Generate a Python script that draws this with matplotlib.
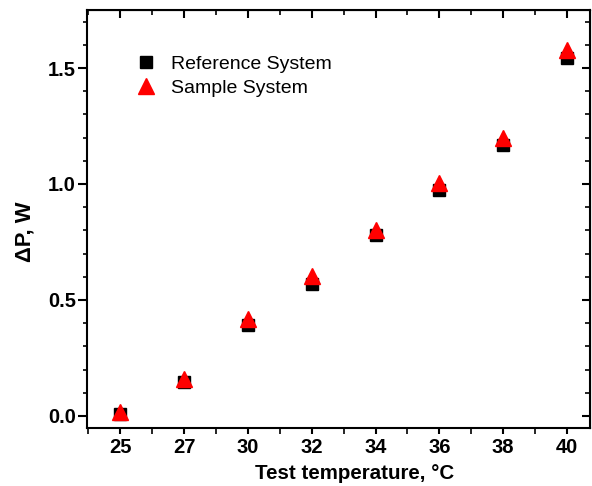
import matplotlib
matplotlib.use("Agg")
import matplotlib.pyplot as plt
from matplotlib.ticker import MultipleLocator

plt.rcParams['font.family'] = ['Liberation Sans', 'DejaVu Sans']

# Data
temps = ['25', '27', '30', '32', '34', '36', '38', '40']
reference = [0.01, 0.147, 0.39, 0.57, 0.78, 0.975, 1.17, 1.543]
sample = [0.015, 0.16, 0.42, 0.605, 0.80, 1.005, 1.20, 1.578]

fig = plt.figure(figsize=(5.92, 4.86), dpi=100)
ax = fig.add_axes([0.147, 0.1193, 0.8496, 0.8601])

x = list(range(len(temps)))
ax.plot(x, reference, linestyle='none', marker='s', color='black', markersize=8.5,
        label='Reference System')
ax.plot(x, sample, linestyle='none', marker='^', color='red', markersize=11.5,
        label='Sample System')

ax.set_xlim(-0.52, 7.36)
ax.set_ylim(-0.052, 1.75)
ax.set_xticks(x)
ax.set_xticklabels(temps)
ax.xaxis.set_minor_locator(MultipleLocator(0.5))
ax.yaxis.set_major_locator(MultipleLocator(0.5))
ax.yaxis.set_minor_locator(MultipleLocator(0.1))
ax.yaxis.set_major_formatter(plt.FuncFormatter(lambda v, p: f'{v:.1f}'))

for spine in ax.spines.values():
    spine.set_linewidth(1.5)

ax.tick_params(axis='y', which='major', direction='out', length=6.5, width=1.5, pad=1.5, labelsize=14.5)
ax.tick_params(axis='y', which='minor', direction='out', length=3, width=1.2)
ax.tick_params(axis='x', which='major', direction='out', length=4, width=1.5, pad=3, labelsize=14.5)
ax.tick_params(axis='x', which='minor', direction='out', length=4, width=1.2)
for lab in ax.get_xticklabels() + ax.get_yticklabels():
    lab.set_fontweight('bold')

# mirrored ticks on top and right, pointing inward
axt = ax.secondary_xaxis('top')
axt.set_xticks(x)
axt.xaxis.set_minor_locator(MultipleLocator(0.5))
axt.tick_params(which='major', direction='in', length=6, width=1.5, labeltop=False)
axt.tick_params(which='minor', direction='in', length=3.5, width=1.2)
axr = ax.secondary_yaxis('right')
axr.yaxis.set_major_locator(MultipleLocator(0.5))
axr.yaxis.set_minor_locator(MultipleLocator(0.1))
axr.tick_params(which='major', direction='in', length=6, width=1.5, labelright=False)
axr.tick_params(which='minor', direction='in', length=3.5, width=1.2)

ax.set_xlabel('Test temperature, \u00b0C', fontsize=14.8, fontweight='bold')
ax.xaxis.set_label_coords(0.531, -0.087)
ax.set_ylabel('\u0394P, W', fontsize=15.8, fontweight='bold')
ax.yaxis.set_label_coords(-0.102, 0.469)

ax.legend(loc='upper left', bbox_to_anchor=(0.07, 0.91), frameon=False, fontsize=14,
          handletextpad=0.5, handlelength=1.6, labelspacing=0.32, borderaxespad=0)

fig.savefig('out.png', dpi=100)
